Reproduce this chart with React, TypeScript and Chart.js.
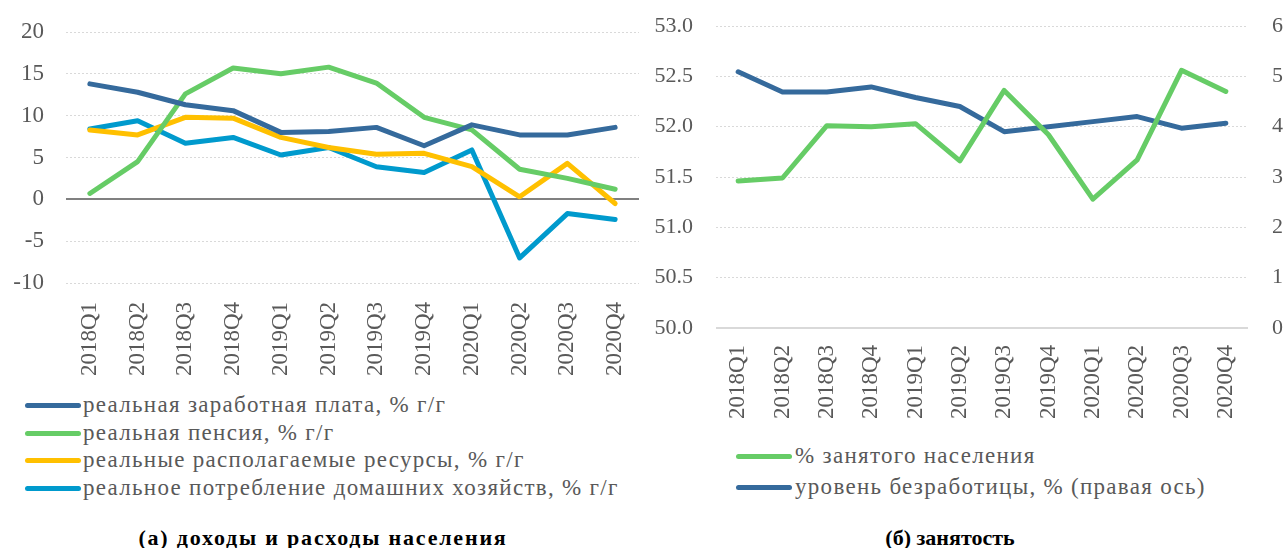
import React, { useEffect, useRef } from 'react';
import { Chart, registerables } from 'chart.js';

Chart.register(...registerables);

const FONT = '"Liberation Serif", "DejaVu Serif", serif';
const TICK_COLOR = '#595959';

// ---- data ----
const categories = ['2018Q1', '2018Q2', '2018Q3', '2018Q4', '2019Q1', '2019Q2', '2019Q3', '2019Q4', '2020Q1', '2020Q2', '2020Q3', '2020Q4'];

const wage = [13.8, 12.8, 11.3, 10.6, 8.0, 8.1, 8.6, 6.4, 8.9, 7.7, 7.7, 8.6];
const pension = [0.7, 4.5, 12.6, 15.7, 15.0, 15.8, 13.9, 9.8, 8.3, 3.6, 2.5, 1.2];
const resources = [8.3, 7.7, 9.8, 9.7, 7.4, 6.2, 5.4, 5.5, 3.9, 0.3, 4.3, -0.5];
const consumption = [8.4, 9.4, 6.7, 7.4, 5.3, 6.2, 3.9, 3.2, 5.9, -7.0, -1.7, -2.4];

const employment = [51.46, 51.49, 52.01, 52.0, 52.03, 51.66, 52.36, 51.92, 51.28, 51.67, 52.56, 52.35];
const unemployment = [5.09, 4.69, 4.69, 4.79, 4.58, 4.4, 3.9, 4.0, 4.1, 4.2, 3.97, 4.07];

const leftLabels = [
  'реальная заработная плата, % г/г',
  'реальная пенсия, % г/г',
  'реальные располагаемые ресурсы, % г/г',
  'реальное потребление домашних хозяйств, % г/г',
];
const rightLabels = ['% занятого населения', 'уровень безработицы, % (правая ось)'];
const leftTitle = '(а) доходы и расходы населения';
const rightTitle = '(б) занятость';

const C_DARK = '#356A9C';
const C_GREEN = '#66CC66';
const C_YELLOW = '#FFC000';
const C_LIGHT = '#009ACD';

const leftColors = [C_DARK, C_GREEN, C_YELLOW, C_LIGHT];
const rightColors = [C_GREEN, C_DARK];

const lineDefaults = {
  borderWidth: 5,
  pointRadius: 0,
  tension: 0,
  borderCapStyle: 'round',
  borderJoinStyle: 'round',
  fill: false,
};

function LeftChart() {
  const ref = useRef<HTMLCanvasElement>(null);
  useEffect(() => {
    const chart = new Chart(ref.current!, {
      type: 'line',
      data: {
        labels: categories,
        datasets: [
          { label: leftLabels[0], data: wage, borderColor: C_DARK, ...lineDefaults },
          { label: leftLabels[1], data: pension, borderColor: C_GREEN, ...lineDefaults },
          { label: leftLabels[2], data: resources, borderColor: C_YELLOW, ...lineDefaults },
          { label: leftLabels[3], data: consumption, borderColor: C_LIGHT, ...lineDefaults },
        ] as any,
      },
      options: {
        animation: false,
        responsive: false,
        maintainAspectRatio: false,
        layout: { padding: { top: 32, right: 6, left: 0, bottom: 0 } },
        plugins: { legend: { display: false }, tooltip: { enabled: false } },
        scales: {
          x: {
            offset: true,
            grid: { display: false, drawTicks: false },
            border: { display: false },
            ticks: {
              autoSkip: false,
              maxRotation: 90,
              minRotation: 90,
              padding: 19,
              color: TICK_COLOR,
              font: { family: FONT, size: 23 },
            },
            afterFit: (s: any) => {
              s.height = 107;
              s.paddingLeft = 0;
              s.paddingRight = 0;
            },
          },
          y: {
            min: -10,
            max: 20,
            ticks: { stepSize: 5, padding: 22, color: TICK_COLOR, font: { family: FONT, size: 23 } },
            grid: {
              drawTicks: false,
              color: (ctx: any) => (ctx.tick && ctx.tick.value === 0 ? '#808080' : '#D9D9D9'),
              lineWidth: (ctx: any) => (ctx.tick && ctx.tick.value === 0 ? 2 : 1),
            },
            border: {
              display: false,
              dash: (ctx: any) => (ctx.tick && ctx.tick.value === 0 ? [] : [2, 2]),
            },
            afterFit: (s: any) => {
              s.width = 66;
              s.paddingTop = 0;
              s.paddingBottom = 0;
            },
          },
        },
      } as any,
    });
    return () => chart.destroy();
  }, []);
  return <canvas ref={ref} width={645} height={390} style={{ position: 'absolute', left: 0, top: 0, width: 645, height: 390 }} />;
}

function RightChart() {
  const ref = useRef<HTMLCanvasElement>(null);
  useEffect(() => {
    const chart = new Chart(ref.current!, {
      type: 'line',
      data: {
        labels: categories,
        datasets: [
          { label: rightLabels[0], data: employment, borderColor: C_GREEN, yAxisID: 'y', ...lineDefaults },
          { label: rightLabels[1], data: unemployment, borderColor: C_DARK, yAxisID: 'y1', ...lineDefaults },
        ] as any,
      },
      options: {
        animation: false,
        responsive: false,
        maintainAspectRatio: false,
        layout: { padding: { top: 26, right: 0, left: 0, bottom: 0 } },
        plugins: { legend: { display: false }, tooltip: { enabled: false } },
        scales: {
          x: {
            offset: true,
            grid: { display: false, drawTicks: false },
            border: { display: false },
            ticks: {
              autoSkip: false,
              maxRotation: 90,
              minRotation: 90,
              padding: 17,
              color: TICK_COLOR,
              font: { family: FONT, size: 23 },
            },
            afterFit: (s: any) => {
              s.height = 112;
              s.paddingLeft = 0;
              s.paddingRight = 0;
            },
          },
          y: {
            position: 'left',
            min: 50,
            max: 53,
            ticks: {
              stepSize: 0.5,
              padding: 23,
              color: TICK_COLOR,
              font: { family: FONT, size: 22 },
              callback: (v: any) => Number(v).toFixed(1),
            },
            grid: {
              drawTicks: false,
              color: '#D9D9D9',
              lineWidth: (ctx: any) => (ctx.tick && ctx.tick.value === 50 ? 2 : 1),
            },
            border: {
              display: false,
              dash: (ctx: any) => (ctx.tick && ctx.tick.value === 50 ? [] : [2, 2]),
            },
            afterFit: (s: any) => {
              s.width = 71;
              s.paddingTop = 0;
              s.paddingBottom = 0;
            },
          },
          y1: {
            position: 'right',
            min: 0,
            max: 6,
            ticks: { stepSize: 1, padding: 24, color: TICK_COLOR, font: { family: FONT, size: 22 } },
            grid: { drawOnChartArea: false, drawTicks: false },
            border: { display: false },
            afterFit: (s: any) => {
              s.width = 38;
              s.paddingTop = 0;
              s.paddingBottom = 0;
            },
          },
        },
      } as any,
    });
    return () => chart.destroy();
  }, []);
  return <canvas ref={ref} width={641} height={440} style={{ position: 'absolute', left: 645, top: 0, width: 641, height: 440 }} />;
}

function LegendRow({ color, text, x, y, iconW, gap }: { color: string; text: string; x: number; y: number; iconW: number; gap: number }) {
  return (
    <div style={{ position: 'absolute', left: x, top: y - 14, height: 28, display: 'flex', alignItems: 'center', whiteSpace: 'nowrap' }}>
      <div style={{ width: iconW, height: 5, borderRadius: 3, background: color, marginRight: gap }} />
      <span style={{ fontFamily: FONT, fontSize: 23, letterSpacing: '1.3px', color: TICK_COLOR, lineHeight: '28px' }}>{text}</span>
    </div>
  );
}

export default function App() {
  const leftRows = [405, 433, 460, 488];
  const rightRows = [456, 487];
  return (
    <div style={{ position: 'absolute', left: 0, top: 0, width: 1286, height: 548, background: '#fff', overflow: 'hidden' }}>
      <LeftChart />
      <RightChart />
      {leftLabels.map((t, i) => (
        <LegendRow key={t} color={leftColors[i]} text={t} x={25} y={leftRows[i]} iconW={56} gap={2} />
      ))}
      {rightLabels.map((t, i) => (
        <LegendRow key={t} color={rightColors[i]} text={t} x={736} y={rightRows[i]} iconW={56} gap={3} />
      ))}
      <div style={{ position: 'absolute', left: 0, width: 646, top: 524, textAlign: 'center', fontFamily: FONT, fontWeight: 'bold', fontSize: 22, letterSpacing: '1.8px', color: '#000', lineHeight: '28px' }}>
        {leftTitle}
      </div>
      <div style={{ position: 'absolute', left: 800, width: 300, top: 524, textAlign: 'center', fontFamily: FONT, fontWeight: 'bold', fontSize: 22, color: '#000', lineHeight: '28px' }}>
        {rightTitle}
      </div>
    </div>
  );
}
